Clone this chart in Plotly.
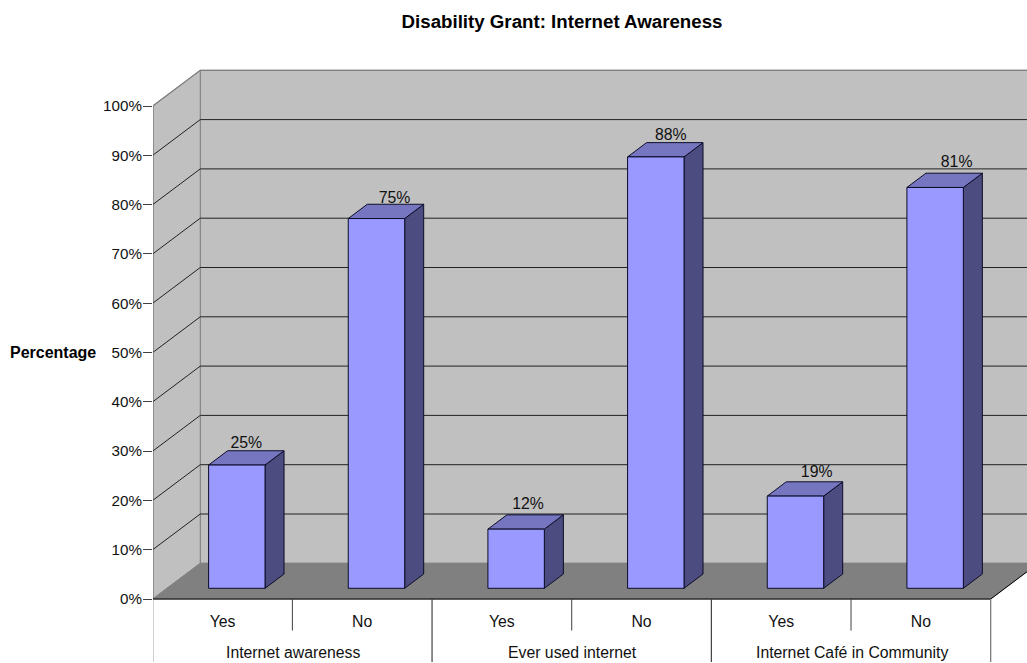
import plotly.graph_objects as go

title_text = "Disability Grant: Internet Awareness"
y_title = "Percentage"
groups = ["Internet awareness", "Ever used internet", "Internet Café in Community"]
answers = ["Yes", "No", "Yes", "No", "Yes", "No"]
values = [25, 75, 12, 87.5, 18.7, 81.3]
value_labels = ["25%", "75%", "12%", "88%", "19%", "81%"]
y_ticks = [0, 10, 20, 30, 40, 50, 60, 70, 80, 90, 100]

FONT = "Liberation Sans, Arial, sans-serif"
FS = 15.8
FRONT, TOP, SIDE = "#9999FF", "#7676C0", "#4C4C80"
WALL, FLOOR = "#C0C0C0", "#808080"

PX_PER_PCT = 4.93
PX_PER_SLOT = 139.57
# Oblique projection: one unit of depth moves this far along x (slots) and y (percent)
DX = 47.5 / PX_PER_SLOT
DY = 35.7 / PX_PER_PCT
BAR_W = 0.404
# small nudges of the value labels, in pixels
LABEL_NUDGE_PX = (0, 8.6, 2.4, 5.5, 11.7, 12)
LABEL_LIFT_PX = (0, -1.5, 2.5, 0, 2, 3)


def proj(slot, pct, depth):
    return slot + depth * DX, pct + depth * DY


def poly(points, fill, line, width=1.0):
    xs, ys = zip(*[proj(*p) for p in points])
    return go.Scatter(
        x=list(xs) + [xs[0]], y=list(ys) + [ys[0]], mode="lines", fill="toself",
        fillcolor=fill, line=dict(color=line, width=width), hoverinfo="skip", showlegend=False,
    )


def seg(points, color, width=1.0):
    xs, ys = zip(*[proj(*p) for p in points])
    return go.Scatter(x=list(xs), y=list(ys), mode="lines", line=dict(color=color, width=width),
                      hoverinfo="skip", showlegend=False)


n = len(values)
fig = go.Figure()
# walls and floor
fig.add_trace(poly([(0, 0, 1), (n, 0, 1), (n, 100, 1), (0, 100, 1)], WALL, "#808080"))
fig.add_trace(poly([(0, 0, 0), (0, 0, 1), (0, 100, 1), (0, 100, 0)], WALL, "#808080"))
fig.add_trace(poly([(0, 0, 0), (n, 0, 0), (n, 0, 1), (0, 0, 1)], FLOOR, FLOOR))
# gridlines
for t in y_ticks[1:-1]:
    fig.add_trace(seg([(0, t, 0), (0, t, 1), (n, t, 1)], "#222222"))
fig.add_trace(seg([(0, 100, 0), (0, 100, 1), (n, 100, 1)], "#808080", 1.3))
# front edges
fig.add_trace(seg([(0, 0, 0), (0, 100, 0)], "#404040", 1.2))
fig.add_trace(seg([(0, 0, 0), (n, 0, 0), (n, 0, 1)], "#000000", 1.0))
# category separators below the floor
for i in range(1, n, 2):
    fig.add_trace(seg([(i, 0, 0), (i, -6.4, 0)], "#404040"))
for i in range(0, n + 1, 2):
    fig.add_trace(seg([(i, 0, 0), (i, -12.8, 0)], "#707070" if i in (0, n) else "#404040", 1.2))
# bars
d0, d1 = 0.3, 0.7
EDGE = "#0c0c28"
for i, v in enumerate(values):
    a, b = i + 0.5 - BAR_W / 2, i + 0.5 + BAR_W / 2
    fig.add_trace(poly([(b, 0, d0), (b, 0, d1), (b, v, d1), (b, v, d0)], SIDE, EDGE))
    fig.add_trace(poly([(a, v, d0), (b, v, d0), (b, v, d1), (a, v, d1)], TOP, EDGE))
    fig.add_trace(poly([(a, 0, d0), (b, 0, d0), (b, v, d0), (a, v, d0)], FRONT, EDGE))
# value labels
lab_x = [proj(i + 0.5, v, 0.5)[0] + LABEL_NUDGE_PX[i] / PX_PER_SLOT for i, v in enumerate(values)]
lab_y = [proj(i + 0.5, v, d1)[1] - 0.2 + LABEL_LIFT_PX[i] / PX_PER_PCT for i, v in enumerate(values)]
fig.add_trace(go.Scatter(
    x=lab_x, y=lab_y, mode="text", text=value_labels,
    textposition="top center", textfont=dict(family=FONT, size=FS, color="#111111"),
    hoverinfo="skip", showlegend=False, cliponaxis=False,
))

left, top, bottom_px, zero_px = 153, 60, 663, 599
fig.update_layout(
    width=1027, height=663, autosize=False,
    margin=dict(l=left, r=0, t=top, b=0),
    paper_bgcolor="white", plot_bgcolor="white", showlegend=False,
    title=dict(text=f"<b>{title_text}</b>", x=562 / 1027, xanchor="center", y=1 - 21 / 663, yanchor="middle",
               font=dict(family=FONT, size=18.7, color="#000000")),
    xaxis=dict(
        range=[0.002, (1027 - 153.3) / PX_PER_SLOT], anchor="free",
        position=(bottom_px - zero_px) / (bottom_px - top),
        tickmode="array", tickvals=[i + 0.5 for i in range(n)], ticktext=answers,
        ticks="", showgrid=False, zeroline=False, showline=False,
        ticklabelstandoff=11, tickfont=dict(family=FONT, size=FS, color="#111111"), tickangle=0,
    ),
    yaxis=dict(
        range=[(zero_px - bottom_px) / PX_PER_PCT, (zero_px - top) / PX_PER_PCT],
        tickmode="array", tickvals=y_ticks, ticktext=[f"{t}%" for t in y_ticks],
        ticks="outside", ticklen=9, tickcolor="#404040", tickwidth=1,
        ticklabelstandoff=-2,
        showgrid=False, zeroline=False, showline=False,
        tickfont=dict(family=FONT, size=15.2, color="#111111"),
    ),
    annotations=[
        dict(x=2 * i + 1 + 1 / PX_PER_SLOT, y=-10.9, xref="x", yref="y", text=g, showarrow=False,
             font=dict(family=FONT, size=FS, color="#111111"))
        for i, g in enumerate(groups)
    ] + [
        dict(x=(52.5 - left) / (1027 - left), y=(bottom_px - 352.5) / (bottom_px - top),
             xref="paper", yref="paper", text=f"<b>{y_title}</b>", showarrow=False,
             xanchor="center", yanchor="middle", font=dict(family=FONT, size=16, color="#000000")),
    ],
)

fig.write_html("out.html", post_script="document.body.style.margin='0';", config={"displayModeBar": False})
